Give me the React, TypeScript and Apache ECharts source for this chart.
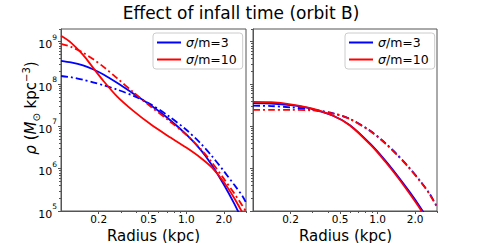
import React, { useEffect, useRef } from "react";
import * as echarts from "echarts";

const FONT = "DejaVu Sans";
const BLUE = "#0000ff";
const RED = "#ff0000";
const AXIS_COLOR = "#555555";

// ---- data (radius in kpc, density in M_sun kpc^-3) ----
const radiusLeft = [0.1, 0.12, 0.15, 0.18, 0.22, 0.28, 0.38, 0.52, 0.71, 1.0, 1.3, 1.6, 2.0, 2.4, 2.8, 3.0];
const leftS3Solid = [3.55e8, 3.24e8, 2.75e8, 2.24e8, 1.66e8, 1.07e8, 5.89e7, 3.16e7, 1.58e7, 6.46e6, 2.82e6, 1.23e6, 4.17e5, 1.55e5, 6.17e4, 3.98e4];
const leftS3Dash = [1.55e8, 1.45e8, 1.26e8, 1.1e8, 9.33e7, 7.41e7, 5.25e7, 3.31e7, 1.82e7, 8.32e6, 3.98e6, 2.0e6, 8.71e5, 4.27e5, 2.29e5, 1.58e5];
const leftS10Solid = [1.38e9, 9.55e8, 4.9e8, 2.45e8, 1.15e8, 5.13e7, 2.29e7, 1.12e7, 6.03e6, 3.16e6, 1.82e6, 1.07e6, 4.79e5, 2.09e5, 9.33e4, 6.31e4];
const leftS10Dash = [8.91e8, 7.59e8, 5.5e8, 3.89e8, 2.51e8, 1.38e8, 6.31e7, 2.95e7, 1.45e7, 6.31e6, 2.95e6, 1.41e6, 5.75e5, 2.69e5, 1.35e5, 9.77e4];

const radiusRight = [0.1, 0.14, 0.2, 0.29, 0.44, 0.6, 0.88, 1.15, 1.44, 1.8, 2.2, 2.6, 3.0];
const rightS3Solid = [3.55e7, 3.47e7, 3.16e7, 2.63e7, 1.78e7, 1.07e7, 3.8e6, 1.58e6, 6.92e5, 2.88e5, 1.23e5, 5.62e4, 2.82e4];
const rightS3Dash = [3.09e7, 3.02e7, 2.82e7, 2.51e7, 2.04e7, 1.51e7, 7.76e6, 4.07e6, 2.14e6, 1.05e6, 5.13e5, 2.63e5, 1.26e5];
const rightS10Solid = [3.8e7, 3.72e7, 3.31e7, 2.69e7, 1.78e7, 1.05e7, 3.63e6, 1.48e6, 6.46e5, 2.63e5, 1.12e5, 5.13e4, 2.57e4];
const rightS10Dash = [2.45e7, 2.45e7, 2.45e7, 2.4e7, 2.0e7, 1.48e7, 7.59e6, 3.98e6, 2.09e6, 1.02e6, 5.01e5, 2.57e5, 1.23e5];

const legendNames = ["σ/m=3", "σ/m=10"];
const xTickValues = [0.2, 0.5, 1.0, 2.0];
const xMinorValues = [0.3, 0.4, 0.6, 0.7, 0.8, 0.9, 3.0];
const yTickValues = [1e5, 1e6, 1e7, 1e8, 1e9];
const X_MIN = 0.1;
const X_MAX = 3.0;
const Y_MIN = 1e5;
const Y_MAX = 2e9;

const yMinorValues: number[] = [];
for (let e = 5; e <= 9; e++) {
  for (let k = 2; k <= 9; k++) {
    const v = k * Math.pow(10, e);
    if (v <= Y_MAX) yMinorValues.push(v);
  }
}

const DASHDOT = [7, 3, 2, 3];

function pairs(xs: number[], ys: number[]) {
  return xs.map((x, i) => [x, ys[i]]);
}

function lineSeries(name: string, idx: number, xs: number[], ys: number[], color: string, dashed: boolean) {
  return {
    type: "line",
    name,
    xAxisIndex: idx,
    yAxisIndex: idx,
    data: pairs(xs, ys),
    symbol: "none",
    smooth: 0.3,
    clip: true,
    lineStyle: { color, width: 1.8, type: dashed ? DASHDOT : "solid" },
    itemStyle: { color },
    emphasis: { disabled: true },
  };
}

function xAxisMain(grid: number) {
  return {
    type: "log",
    logBase: 10,
    gridIndex: grid,
    position: "bottom",
    min: X_MIN,
    max: X_MAX,
    axisLine: { show: true, lineStyle: { color: AXIS_COLOR, width: 1 } },
    axisTick: { show: true, customValues: xTickValues, length: 3, lineStyle: { color: AXIS_COLOR } },
    axisLabel: {
      show: true,
      customValues: xTickValues,
      formatter: (v: number) => Number(v).toFixed(1),
      margin: 2,
      fontSize: 10.5,
      lineHeight: 11,
      color: "#000",
      fontFamily: FONT,
    },
    splitLine: { show: false },
  };
}

function xMinorAxis(grid: number) {
  return {
    type: "log",
    logBase: 10,
    gridIndex: grid,
    position: "bottom",
    min: X_MIN,
    max: X_MAX,
    axisLine: { show: false },
    axisTick: { show: true, customValues: xMinorValues, length: 2, lineStyle: { color: AXIS_COLOR } },
    axisLabel: { show: false },
    splitLine: { show: false },
  };
}

function yAxisMain(grid: number, labels: boolean) {
  return {
    type: "log",
    logBase: 10,
    gridIndex: grid,
    position: "left",
    min: Y_MIN,
    max: Y_MAX,
    axisLine: { show: true, lineStyle: { color: AXIS_COLOR, width: 1 } },
    axisTick: { show: true, customValues: yTickValues, length: 3, lineStyle: { color: AXIS_COLOR } },
    axisLabel: {
      show: labels,
      customValues: yTickValues,
      formatter: (v: number) => {
        const e = v > 100 ? Math.round(Math.log10(v)) : Math.round(v);
        return `{b|10}{s|${e}}`;
      },
      margin: 4,
      color: "#000",
      rich: {
        b: { fontSize: 11, fontFamily: FONT, color: "#000", lineHeight: 17, verticalAlign: "bottom" },
        s: { fontSize: 7.5, fontFamily: FONT, color: "#000", lineHeight: 9, verticalAlign: "top" },
      },
    },
    splitLine: { show: false },
  };
}

function yMinorAxis(grid: number) {
  return {
    type: "log",
    logBase: 10,
    gridIndex: grid,
    position: "left",
    min: Y_MIN,
    max: Y_MAX,
    axisLine: { show: false },
    axisTick: { show: true, customValues: yMinorValues, length: 2, lineStyle: { color: AXIS_COLOR } },
    axisLabel: { show: false },
    splitLine: { show: false },
  };
}

function legend(left: number) {
  return {
    data: legendNames,
    orient: "vertical",
    left,
    top: 33,
    itemWidth: 24,
    itemHeight: 13,
    itemGap: 4,
    padding: [3, 6, 3, 3],
    backgroundColor: "rgba(255,255,255,0.85)",
    borderColor: "#cccccc",
    borderWidth: 1,
    borderRadius: 3,
    selectedMode: false,
    itemStyle: { opacity: 0 },
    lineStyle: { width: 2 },
    formatter: (name: string) => `{i|σ}{n|${name.slice(1)}}`,
    textStyle: {
      fontSize: 12.5,
      fontFamily: FONT,
      color: "#000",
      rich: {
        i: { fontSize: 12.5, fontFamily: FONT, fontStyle: "italic", color: "#000" },
        n: { fontSize: 12.5, fontFamily: FONT, color: "#000" },
      },
    },
  };
}

export default function App() {
  const ref = useRef<HTMLDivElement>(null);
  useEffect(() => {
    if (!ref.current) return;
    const chart = echarts.init(ref.current, null, { renderer: "svg" });
    const option: any = {
      animation: false,
      backgroundColor: "#ffffff",
      grid: [
        { left: 61, top: 29, width: 185, height: 182, show: true, borderColor: AXIS_COLOR, borderWidth: 1, backgroundColor: "transparent" },
        { left: 253, top: 29, width: 184, height: 182, show: true, borderColor: AXIS_COLOR, borderWidth: 1, backgroundColor: "transparent" },
      ],
      xAxis: [xAxisMain(0), xAxisMain(1), xMinorAxis(0), xMinorAxis(1)],
      yAxis: [yAxisMain(0, true), yAxisMain(1, false), yMinorAxis(0), yMinorAxis(1)],
      legend: [legend(153), legend(345)],
      series: [
        lineSeries(legendNames[0], 0, radiusLeft, leftS3Solid, BLUE, false),
        lineSeries("σ/m=3 dashdot", 0, radiusLeft, leftS3Dash, BLUE, true),
        lineSeries(legendNames[1], 0, radiusLeft, leftS10Solid, RED, false),
        lineSeries("σ/m=10 dashdot", 0, radiusLeft, leftS10Dash, RED, true),
        lineSeries(legendNames[0], 1, radiusRight, rightS3Solid, BLUE, false),
        lineSeries("σ/m=3 dashdot", 1, radiusRight, rightS3Dash, BLUE, true),
        lineSeries(legendNames[1], 1, radiusRight, rightS10Solid, RED, false),
        lineSeries("σ/m=10 dashdot", 1, radiusRight, rightS10Dash, RED, true),
      ],
      graphic: [
        {
          type: "text",
          x: 241,
          y: 13,
          style: { text: "Effect of infall time (orbit B)", fontSize: 17, fontFamily: FONT, fill: "#000", align: "center", verticalAlign: "middle" },
        },
        {
          type: "text",
          x: 153.5,
          y: 235.5,
          style: { text: "Radius (kpc)", fontSize: 15, lineHeight: 15, fontFamily: FONT, fill: "#000", align: "center", verticalAlign: "middle" },
        },
        {
          type: "text",
          x: 345.5,
          y: 235.5,
          style: { text: "Radius (kpc)", fontSize: 15, lineHeight: 15, fontFamily: FONT, fill: "#000", align: "center", verticalAlign: "middle" },
        },
        {
          type: "text",
          x: 31,
          y: 108,
          rotation: Math.PI / 2,
          style: {
            text: "{i|ρ}{n| (}{i|M}{sub|⊙}{n| kpc}{sup|−3}{n|)}",
            fontSize: 15,
            fontFamily: FONT,
            fill: "#000",
            align: "center",
            verticalAlign: "middle",
            rich: {
              i: { fontSize: 15, fontFamily: FONT, fontStyle: "italic", fill: "#000", lineHeight: 20, verticalAlign: "middle" },
              n: { fontSize: 15, fontFamily: FONT, fill: "#000", lineHeight: 20, verticalAlign: "middle" },
              sub: { fontSize: 10, fontFamily: FONT, fill: "#000", lineHeight: 10, verticalAlign: "bottom" },
              sup: { fontSize: 10, fontFamily: FONT, fill: "#000", lineHeight: 10, verticalAlign: "top" },
            },
          },
        },
      ],
    };
    chart.setOption(option);
    return () => chart.dispose();
  }, []);
  return (
    <div
      ref={ref}
      style={{ position: "fixed", left: 0, top: 0, width: 486, height: 243, background: "#fff" }}
    />
  );
}
